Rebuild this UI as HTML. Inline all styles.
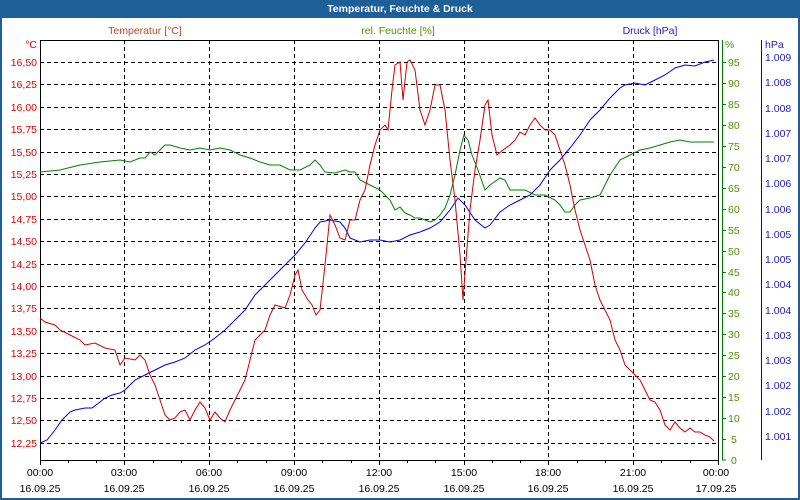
<!DOCTYPE html>
<html><head><meta charset="utf-8"><style>
body{margin:0;width:800px;height:500px;overflow:hidden;background:#fff;font-family:"Liberation Sans",sans-serif}
svg{display:block}
text{font-family:"Liberation Sans",sans-serif;font-size:10.5px}
</style></head><body>
<svg width="800" height="500" viewBox="0 0 800 500">
<rect x="0" y="0" width="800" height="500" fill="#1f5f97"/>
<rect x="2" y="18" width="796" height="480" fill="#fff"/>
<text x="400" y="12" text-anchor="middle" fill="#fff" font-weight="bold" style="font-size:10.5px">Temperatur, Feuchte &amp; Druck</text>
<text x="145" y="34" text-anchor="middle" fill="#c04820">Temperatur [°C]</text>
<text x="398" y="34" text-anchor="middle" fill="#509000">rel. Feuchte [%]</text>
<text x="650" y="34" text-anchor="middle" fill="#2020c0">Druck [hPa]</text>
<g stroke="#000" stroke-dasharray="4,3" stroke-width="1">
<line x1="40" y1="62.5" x2="718" y2="62.5"/><line x1="40" y1="84.5" x2="718" y2="84.5"/><line x1="40" y1="107.5" x2="718" y2="107.5"/><line x1="40" y1="129.5" x2="718" y2="129.5"/><line x1="40" y1="152.5" x2="718" y2="152.5"/><line x1="40" y1="174.5" x2="718" y2="174.5"/><line x1="40" y1="196.5" x2="718" y2="196.5"/><line x1="40" y1="219.5" x2="718" y2="219.5"/><line x1="40" y1="241.5" x2="718" y2="241.5"/><line x1="40" y1="264.5" x2="718" y2="264.5"/><line x1="40" y1="286.5" x2="718" y2="286.5"/><line x1="40" y1="308.5" x2="718" y2="308.5"/><line x1="40" y1="331.5" x2="718" y2="331.5"/><line x1="40" y1="353.5" x2="718" y2="353.5"/><line x1="40" y1="376.5" x2="718" y2="376.5"/><line x1="40" y1="398.5" x2="718" y2="398.5"/><line x1="40" y1="420.5" x2="718" y2="420.5"/><line x1="40" y1="443.5" x2="718" y2="443.5"/>
<line x1="124.5" y1="40" x2="124.5" y2="460"/><line x1="209.5" y1="40" x2="209.5" y2="460"/><line x1="294.5" y1="40" x2="294.5" y2="460"/><line x1="379.5" y1="40" x2="379.5" y2="460"/><line x1="464.5" y1="40" x2="464.5" y2="460"/><line x1="548.5" y1="40" x2="548.5" y2="460"/><line x1="633.5" y1="40" x2="633.5" y2="460"/>
</g>
<rect x="40.5" y="40.5" width="678" height="420" fill="none" stroke="#000"/>
<g stroke="#000"><line x1="40.5" y1="460" x2="40.5" y2="465"/><line x1="68.5" y1="460" x2="68.5" y2="463"/><line x1="96.5" y1="460" x2="96.5" y2="463"/><line x1="124.5" y1="460" x2="124.5" y2="465"/><line x1="153.5" y1="460" x2="153.5" y2="463"/><line x1="181.5" y1="460" x2="181.5" y2="463"/><line x1="209.5" y1="460" x2="209.5" y2="465"/><line x1="237.5" y1="460" x2="237.5" y2="463"/><line x1="266.5" y1="460" x2="266.5" y2="463"/><line x1="294.5" y1="460" x2="294.5" y2="465"/><line x1="322.5" y1="460" x2="322.5" y2="463"/><line x1="351.5" y1="460" x2="351.5" y2="463"/><line x1="379.5" y1="460" x2="379.5" y2="465"/><line x1="407.5" y1="460" x2="407.5" y2="463"/><line x1="435.5" y1="460" x2="435.5" y2="463"/><line x1="464.5" y1="460" x2="464.5" y2="465"/><line x1="492.5" y1="460" x2="492.5" y2="463"/><line x1="520.5" y1="460" x2="520.5" y2="463"/><line x1="548.5" y1="460" x2="548.5" y2="465"/><line x1="577.5" y1="460" x2="577.5" y2="463"/><line x1="605.5" y1="460" x2="605.5" y2="463"/><line x1="633.5" y1="460" x2="633.5" y2="465"/><line x1="661.5" y1="460" x2="661.5" y2="463"/><line x1="690.5" y1="460" x2="690.5" y2="463"/><line x1="718.5" y1="460" x2="718.5" y2="465"/></g>
<g fill="#e00000" text-anchor="end">
<text x="37" y="48">°C</text><text x="37" y="66">16,50</text><text x="37" y="88">16,25</text><text x="37" y="111">16,00</text><text x="37" y="133">15,75</text><text x="37" y="156">15,50</text><text x="37" y="178">15,25</text><text x="37" y="200">15,00</text><text x="37" y="223">14,75</text><text x="37" y="245">14,50</text><text x="37" y="268">14,25</text><text x="37" y="290">14,00</text><text x="37" y="312">13,75</text><text x="37" y="335">13,50</text><text x="37" y="357">13,25</text><text x="37" y="380">13,00</text><text x="37" y="402">12,75</text><text x="37" y="424">12,50</text><text x="37" y="447">12,25</text>
</g>
<line x1="722.5" y1="40" x2="722.5" y2="460" stroke="#008000"/>
<g stroke="#008000"><line x1="722" y1="62.5" x2="726" y2="62.5"/><line x1="722" y1="83.5" x2="726" y2="83.5"/><line x1="722" y1="104.5" x2="726" y2="104.5"/><line x1="722" y1="125.5" x2="726" y2="125.5"/><line x1="722" y1="146.5" x2="726" y2="146.5"/><line x1="722" y1="167.5" x2="726" y2="167.5"/><line x1="722" y1="188.5" x2="726" y2="188.5"/><line x1="722" y1="209.5" x2="726" y2="209.5"/><line x1="722" y1="230.5" x2="726" y2="230.5"/><line x1="722" y1="251.5" x2="726" y2="251.5"/><line x1="722" y1="272.5" x2="726" y2="272.5"/><line x1="722" y1="292.5" x2="726" y2="292.5"/><line x1="722" y1="313.5" x2="726" y2="313.5"/><line x1="722" y1="334.5" x2="726" y2="334.5"/><line x1="722" y1="355.5" x2="726" y2="355.5"/><line x1="722" y1="376.5" x2="726" y2="376.5"/><line x1="722" y1="397.5" x2="726" y2="397.5"/><line x1="722" y1="418.5" x2="726" y2="418.5"/><line x1="722" y1="439.5" x2="726" y2="439.5"/><line x1="722" y1="460" x2="726" y2="460"/></g>
<g fill="#509000">
<text x="725" y="48">%</text><text x="728" y="66">95</text><text x="728" y="87">90</text><text x="728" y="108">85</text><text x="728" y="129">80</text><text x="728" y="150">75</text><text x="728" y="171">70</text><text x="728" y="192">65</text><text x="728" y="213">60</text><text x="728" y="234">55</text><text x="728" y="255">50</text><text x="728" y="276">45</text><text x="728" y="296">40</text><text x="728" y="317">35</text><text x="728" y="338">30</text><text x="728" y="359">25</text><text x="728" y="380">20</text><text x="728" y="401">15</text><text x="728" y="422">10</text><text x="731" y="443">5</text><text x="731" y="464">0</text>
</g>
<line x1="761.5" y1="40" x2="761.5" y2="460" stroke="#0000e0"/>
<g fill="#2020c0">
<text x="765" y="48">hPa</text><text x="765" y="61">1.009</text><text x="765" y="86">1.008</text><text x="765" y="112">1.008</text><text x="765" y="137">1.007</text><text x="765" y="162">1.007</text><text x="765" y="187">1.006</text><text x="765" y="213">1.006</text><text x="765" y="238">1.005</text><text x="765" y="263">1.005</text><text x="765" y="288">1.004</text><text x="765" y="314">1.004</text><text x="765" y="339">1.003</text><text x="765" y="364">1.003</text><text x="765" y="389">1.002</text><text x="765" y="415">1.002</text><text x="765" y="440">1.001</text>
</g>
<g fill="#000" text-anchor="middle">
<text x="40" y="476">00:00</text><text x="124" y="476">03:00</text><text x="209" y="476">06:00</text><text x="294" y="476">09:00</text><text x="379" y="476">12:00</text><text x="464" y="476">15:00</text><text x="548" y="476">18:00</text><text x="633" y="476">21:00</text><text x="716" y="476">00:00</text>
<text x="40" y="492">16.09.25</text><text x="124" y="492">16.09.25</text><text x="209" y="492">16.09.25</text><text x="294" y="492">16.09.25</text><text x="379" y="492">16.09.25</text><text x="464" y="492">16.09.25</text><text x="548" y="492">16.09.25</text><text x="633" y="492">16.09.25</text><text x="716" y="492">17.09.25</text>
</g>
<polyline fill="none" stroke="#008000" points="40,172 60,170 80,165 100,162 120,160 130,162 140,158 145,158 150,152 155,155 160,150 165,145 170,145 180,148 190,150 200,148 210,150 220,148 230,150 240,155 250,158 260,162 270,165 280,165 290,170 300,170 310,165 315,160 320,165 325,172 335,173 345,170 350,172 355,172 360,180 370,185 380,190 390,200 395,210 400,207 405,213 410,215 415,218 420,218 425,220 430,222 435,220 440,215 445,208 450,195 455,175 460,150 464,135 468,140 472,155 478,170 485,190 490,185 500,178 505,180 510,190 515,190 525,190 535,195 545,195 555,200 560,205 565,212 570,212 575,205 580,200 590,198 600,195 610,175 620,160 630,155 640,150 650,148 660,145 670,142 680,140 690,142 700,142 710,142 714,142"/>
<polyline fill="none" stroke="#0000e0" points="40,443 47,440 55,430 62,420 70,412 75,410 85,408 92,408 100,402 105,398 112,395 120,393 125,390 135,380 145,375 155,370 165,365 175,362 185,358 195,350 205,345 215,338 225,330 235,320 245,310 255,295 265,285 275,275 285,265 295,255 305,243 315,228 320,222 330,220 340,222 345,228 350,238 360,242 370,240 380,240 390,242 400,240 410,235 420,232 430,228 440,222 450,210 458,198 465,205 475,220 485,228 490,225 500,212 510,205 520,200 530,195 540,185 550,170 560,160 570,148 580,135 590,120 600,110 610,98 620,88 625,85 635,83 645,85 655,80 665,75 675,68 685,65 695,66 705,62 714,60"/>
<polyline fill="none" stroke="#d00000" points="40,318 45,322 55,325 60,330 70,335 80,340 85,345 95,343 105,348 115,350 120,365 125,358 135,360 140,355 145,360 150,375 155,385 160,400 165,415 170,420 175,418 180,412 185,410 190,420 195,410 200,402 205,408 210,420 215,412 220,418 225,422 230,410 240,390 245,380 250,360 255,340 260,335 265,330 270,315 275,305 285,308 290,295 295,275 298,270 302,290 308,300 312,305 316,315 320,310 325,265 330,215 335,225 340,238 345,240 350,220 355,220 360,200 365,190 370,165 375,145 380,130 385,125 388,130 392,90 395,65 400,62 403,100 407,62 410,60 415,70 420,110 425,125 430,110 435,85 440,85 445,110 450,160 455,200 460,255 463,300 466,260 470,210 475,170 480,140 485,105 488,100 492,135 497,155 503,150 510,145 515,140 520,132 525,135 530,125 535,118 540,125 545,130 550,130 555,135 560,150 565,165 570,185 575,210 580,230 585,245 590,260 595,285 600,300 605,310 610,320 615,340 620,350 625,365 630,370 635,375 640,380 645,390 650,400 655,402 660,410 665,425 670,430 675,422 680,428 685,432 690,428 695,432 700,432 705,435 710,437 714,441"/>
</svg>
</body></html>
